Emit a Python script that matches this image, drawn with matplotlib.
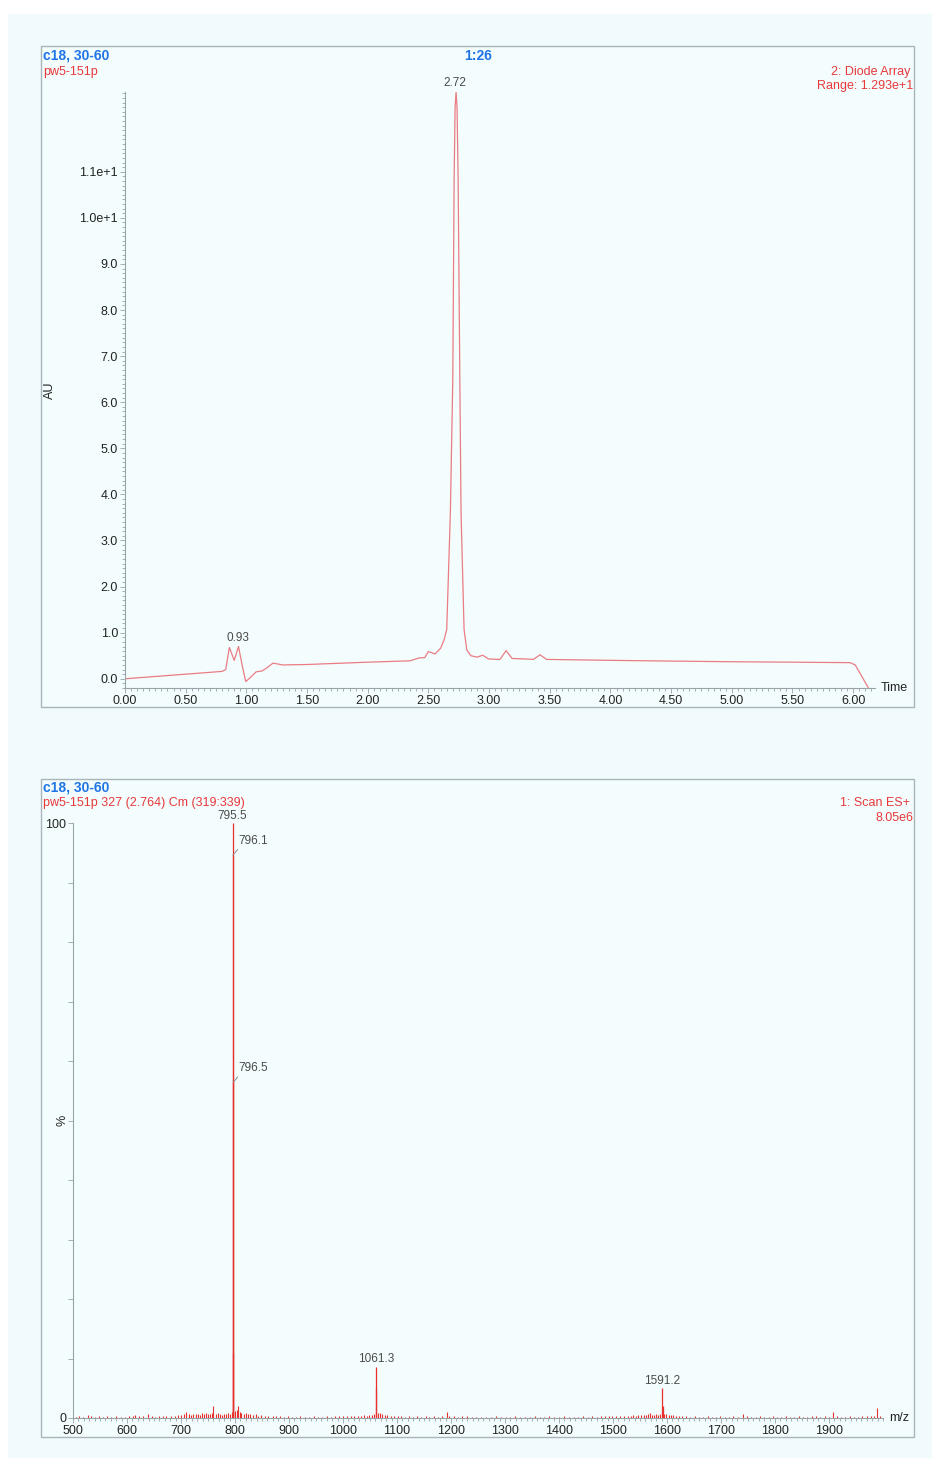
import matplotlib
matplotlib.use("Agg")
import matplotlib.pyplot as plt
from matplotlib import font_manager
from matplotlib.patches import Rectangle
from matplotlib.ticker import FixedLocator, MultipleLocator

# ── Data: UV chromatogram (time in min, AU) ──
lc_time = [0.00, 0.40, 0.80, 0.83, 0.86, 0.90, 0.935, 0.965, 0.995, 1.03,
           1.08, 1.13, 1.17, 1.22, 1.30, 1.50, 2.00, 2.35, 2.42, 2.47,
           2.50, 2.555, 2.60, 2.63, 2.651, 2.681, 2.701, 2.712, 2.72,
           2.728, 2.736, 2.745, 2.759, 2.769, 2.794, 2.816, 2.85, 2.90,
           2.948, 2.995, 3.09, 3.14, 3.19, 3.30, 3.365, 3.42, 3.475, 4.00,
           4.465, 5.00, 5.50, 5.975, 6.017, 6.126]
lc_au = [0.00, 0.08, 0.16, 0.20, 0.68, 0.40, 0.70, 0.30, -0.06, 0.02,
         0.15, 0.17, 0.24, 0.34, 0.30, 0.31, 0.36, 0.39, 0.45, 0.46,
         0.59, 0.54, 0.66, 0.85, 1.07, 3.60, 6.50, 10.85, 12.40,
         12.73, 12.40, 10.85, 6.50, 3.60, 1.07, 0.63, 0.50, 0.47,
         0.51, 0.43, 0.42, 0.61, 0.44, 0.43, 0.42, 0.52, 0.42, 0.40,
         0.385, 0.37, 0.36, 0.35, 0.30, -0.20]
lc_peak_labels = [(2.72, 12.73, "2.72"), (0.93, 0.70, "0.93")]
au_ticks = [0, 1, 2, 3, 4, 5, 6, 7, 8, 9, 10, 11]
au_labels = ["0.0", "1.0", "2.0", "3.0", "4.0", "5.0", "6.0", "7.0",
             "8.0", "9.0", "1.0e+1", "1.1e+1"]
time_ticks = [0.0, 0.5, 1.0, 1.5, 2.0, 2.5, 3.0, 3.5, 4.0, 4.5, 5.0, 5.5, 6.0]

# ── Data: mass spectrum (m/z, relative intensity %) ──
ms_peak_mz = [795.5, 796.1, 796.5, 797.0, 1061.3, 1061.8, 1591.2, 1592.0]
ms_peak_int = [100.0, 94.6, 56.4, 11.0, 8.6, 5.0, 5.0, 2.0]
ms_noise_mz = [505, 512, 519, 528, 533, 541, 548, 556, 563, 571, 579, 588,
               596, 604, 611, 615, 622, 630, 639, 646, 652, 659, 667, 673,
               681, 688, 694, 700, 706, 710, 714, 719, 723, 727, 731, 735,
               738, 742, 746, 750, 754, 757, 760, 764, 768, 772, 775, 779,
               783, 787, 791, 794, 800, 803, 806, 809, 812, 816, 820, 824,
               828, 833, 838, 843, 848, 855, 862, 870, 876, 883, 890, 898,
               905, 913, 921, 929, 937, 946, 954, 962, 970, 978, 986, 993,
               1000, 1007, 1014, 1021, 1027, 1033, 1039, 1044, 1049, 1054,
               1058, 1064, 1068, 1072, 1077, 1082, 1088, 1094, 1101, 1108,
               1115, 1122, 1130, 1137, 1145, 1153, 1160, 1168, 1176, 1184,
               1192, 1197, 1205, 1213, 1221, 1230, 1238, 1247, 1256, 1265,
               1274, 1283, 1292, 1301, 1310, 1319, 1328, 1337, 1346, 1355,
               1364, 1373, 1382, 1391, 1400, 1409, 1418, 1427, 1436, 1445,
               1454, 1462, 1470, 1478, 1485, 1492, 1499, 1506, 1513, 1520,
               1527, 1533, 1537, 1542, 1547, 1552, 1557, 1561, 1565, 1568,
               1572, 1576, 1580, 1584, 1587, 1595, 1599, 1603, 1607, 1612,
               1617, 1622, 1628, 1635, 1643, 1651, 1659, 1667, 1675, 1683,
               1691, 1699, 1707, 1715, 1723, 1731, 1741, 1748, 1756, 1764,
               1772, 1780, 1788, 1796, 1804, 1812, 1820, 1828, 1836, 1844,
               1852, 1860, 1868, 1876, 1884, 1892, 1900, 1907, 1914, 1922,
               1930, 1938, 1946, 1954, 1962, 1970, 1977, 1983, 1989, 1994]
ms_noise_int = [0.2, 0.3, 0.2, 0.45, 0.3, 0.2, 0.3, 0.25, 0.3, 0.2, 0.3, 0.25,
                0.2, 0.3, 0.35, 0.45, 0.3, 0.35, 0.6, 0.3, 0.25, 0.3, 0.35, 0.3,
                0.4, 0.35, 0.45, 0.5, 0.7, 1.0, 0.6, 0.55, 0.7, 0.6, 0.65, 0.5,
                0.8, 0.6, 0.85, 0.7, 0.6, 0.9, 2.1, 0.7, 0.8, 0.6, 0.5, 0.7,
                0.6, 0.9, 0.7, 1.0, 1.1, 1.3, 2.0, 1.0, 0.9, 0.7, 0.8, 0.6,
                0.7, 0.5, 0.6, 0.4, 0.5, 0.35, 0.4, 0.3, 0.35, 0.3, 0.25, 0.3,
                0.2, 0.25, 0.3, 0.2, 0.25, 0.3, 0.2, 0.25, 0.3, 0.2, 0.35, 0.3,
                0.4, 0.3, 0.35, 0.3, 0.4, 0.35, 0.45, 0.4, 0.5, 0.55,
                0.7, 0.8, 0.8, 0.6, 0.5, 0.45, 0.4, 0.3, 0.35, 0.3,
                0.25, 0.3, 0.25, 0.3, 0.25, 0.3, 0.2, 0.3, 0.25, 0.3,
                1.0, 0.4, 0.3, 0.25, 0.35, 0.3, 0.2, 0.25, 0.2, 0.25,
                0.2, 0.3, 0.2, 0.25, 0.2, 0.3, 0.2, 0.25, 0.2, 0.3,
                0.25, 0.2, 0.3, 0.25, 0.2, 0.3, 0.25, 0.2, 0.25, 0.3,
                0.2, 0.3, 0.25, 0.35, 0.3, 0.4, 0.35, 0.3, 0.35, 0.3,
                0.4, 0.35, 0.45, 0.4, 0.5, 0.45, 0.55, 0.5, 0.6, 0.9,
                0.5, 0.55, 0.6, 0.5, 0.7, 0.7, 0.6, 0.55, 0.5, 0.45,
                0.4, 0.35, 0.4, 0.3, 0.25, 0.3, 0.2, 0.25, 0.3, 0.2,
                0.25, 0.3, 0.2, 0.25, 0.3, 0.25, 0.6, 0.3, 0.2, 0.25,
                0.3, 0.2, 0.25, 0.3, 0.2, 0.25, 0.3, 0.2, 0.25, 0.3,
                0.2, 0.25, 0.3, 0.35, 0.25, 0.3, 0.25, 1.0, 0.3, 0.25,
                0.2, 0.3, 0.25, 0.2, 0.3, 0.35, 0.3, 0.4, 1.7, 0.4]
ms_labels = [(795.5, 100.0, "795.5"), (1061.3, 8.6, "1061.3"),
             (1591.2, 5.0, "1591.2")]
ms_leader_labels = [(796.1, 94.6, "796.1"), (796.5, 56.4, "796.5")]
mz_ticks = [500, 600, 700, 800, 900, 1000, 1100, 1200, 1300, 1400, 1500,
            1600, 1700, 1800, 1900]
pct_ticks = [0, 10, 20, 30, 40, 50, 60, 70, 80, 90, 100]

# ── Style ──
W, H = 940, 1466
BG = "#f1fbfd"
FRAME = "#aab5ba"
AXIS = "#98a3a8"
BLUE = "#1f74e6"
RED = "#e8383a"
TRACE_LC = "#ea7c84"
TRACE_MS = "#e8302c"
TXT = "#222222"
LBL = "#4a4a4a"

installed = {f.name for f in font_manager.fontManager.ttflist}
plt.rcParams["font.family"] = ["Liberation Sans", "DejaVu Sans"]
narrow = "Liberation Sans Narrow" if "Liberation Sans Narrow" in installed \
    else "Liberation Sans"


def rect(left, top, right, bottom):
    return [left / W, 1 - bottom / H, (right - left) / W, (bottom - top) / H]


def ftext(px, py, s, **kw):
    fig.text(px / W, 1 - py / H, s, va="center", **kw)


def style_axes(ax):
    ax.set_facecolor("none")
    for side in ("top", "right"):
        ax.spines[side].set_visible(False)
    for side in ("left", "bottom"):
        ax.spines[side].set_color(AXIS)
        ax.spines[side].set_linewidth(0.8)
    ax.tick_params(which="both", colors=AXIS, labelcolor=TXT,
                   labelsize=9, width=0.6)
    ax.tick_params(which="major", length=3.5, pad=1.5)
    ax.tick_params(which="minor", length=2)


fig = plt.figure(figsize=(W / 100, H / 100), dpi=100)
fig.patch.set_facecolor("white")
fig.add_artist(Rectangle((8 / W, 1 - 1458 / H), 924 / W, 1444 / H,
                         transform=fig.transFigure, facecolor=BG,
                         edgecolor="none", zorder=0))
for top, bottom in ((46, 707), (779, 1437)):
    fig.add_artist(Rectangle((41 / W, 1 - bottom / H), 873 / W,
                             (bottom - top) / H, transform=fig.transFigure,
                             facecolor="#f3fdfe", edgecolor=FRAME,
                             linewidth=1.0, zorder=0))

# ── Panel 1: diode array chromatogram ──
ax1 = fig.add_axes(rect(125, 92, 875, 688))
style_axes(ax1)
ax1.plot(lc_time, lc_au, color=TRACE_LC, lw=0.9)
ax1.set_xlim(0, 6.18)
ax1.set_ylim(-0.2, 12.73)
ax1.xaxis.set_major_locator(FixedLocator(time_ticks))
ax1.set_xticklabels([f"{t:.2f}" for t in time_ticks])
ax1.xaxis.set_minor_locator(MultipleLocator(0.05))
ax1.yaxis.set_major_locator(FixedLocator(au_ticks))
ax1.set_yticklabels(au_labels)
ax1.yaxis.set_minor_locator(MultipleLocator(0.1))
for t, v, s in lc_peak_labels:
    ax1.annotate(s, (t, v), xytext=(0, 2), textcoords="offset points",
                 ha="center", va="bottom", fontsize=8.5, color=LBL)

ftext(43, 56, "c18, 30-60", color=BLUE, fontsize=10, fontweight="bold",
      family=narrow)
ftext(478, 56, "1:26", color=BLUE, fontsize=10, fontweight="bold",
      family=narrow, ha="center")
ftext(43, 72, "pw5-151p", color=RED, fontsize=9)
ftext(910, 72, "2: Diode Array", color=RED, fontsize=9, ha="right")
ftext(913, 86, "Range: 1.293e+1", color=RED, fontsize=9, ha="right")
ftext(50, 390, "AU", color=TXT, fontsize=9, rotation=90, ha="center")
ftext(881, 688, "Time", color=TXT, fontsize=9, ha="left")

# ── Panel 2: ES+ mass spectrum ──
ax2 = fig.add_axes(rect(73, 823, 883, 1418))
style_axes(ax2)
ax2.axhline(0, xmin=0.0, xmax=0.997, color=TRACE_MS, lw=0.7, zorder=3)
ax2.vlines(ms_noise_mz, 0, ms_noise_int, color=TRACE_MS, lw=0.8, zorder=3)
ax2.vlines(ms_peak_mz, 0, ms_peak_int, color=TRACE_MS, lw=0.9, zorder=3)
ax2.set_xlim(500, 2000)
ax2.set_ylim(0, 100)
ax2.xaxis.set_major_locator(FixedLocator(mz_ticks))
ax2.set_xticklabels([str(m) for m in mz_ticks])
ax2.xaxis.set_minor_locator(MultipleLocator(10))
ax2.yaxis.set_major_locator(FixedLocator(pct_ticks))
ax2.set_yticklabels(["0"] + [""] * 9 + ["100"])
for m, v, s in ms_labels:
    ax2.annotate(s, (m, v), xytext=(0, 1), textcoords="offset points",
                 ha="center", va="bottom", fontsize=8.5, color=LBL,
                 annotation_clip=False)
for m, v, s in ms_leader_labels:
    ax2.annotate(s, (m, v), xytext=(4, 6), textcoords="offset points",
                 ha="left", va="bottom", fontsize=8.5, color=LBL,
                 arrowprops=dict(arrowstyle="-", color="#8a8a8a", lw=0.7,
                                 shrinkA=0, shrinkB=0,
                                 relpos=(0.05, 0.0)))

ftext(43, 788, "c18, 30-60", color=BLUE, fontsize=10, fontweight="bold",
      family=narrow)
ftext(43, 803, "pw5-151p 327 (2.764) Cm (319:339)", color=RED, fontsize=9)
ftext(910, 803, "1: Scan ES+", color=RED, fontsize=9, ha="right")
ftext(913, 818, "8.05e6", color=RED, fontsize=9, ha="right")
ftext(63, 1120, "%", color=TXT, fontsize=9, rotation=90, ha="center")
ftext(889, 1418, "m/z", color=TXT, fontsize=9, ha="left")

fig.savefig("out.png", dpi=100, facecolor=fig.get_facecolor())
